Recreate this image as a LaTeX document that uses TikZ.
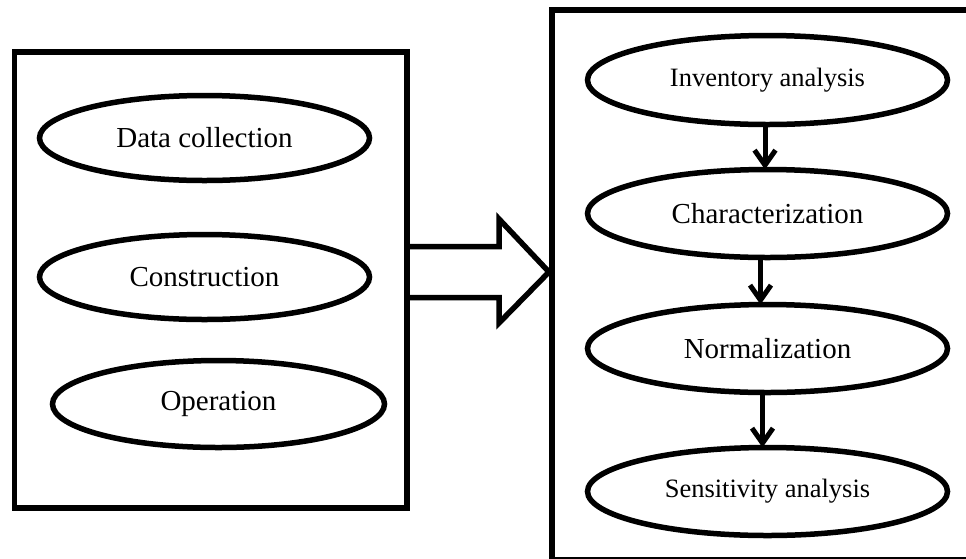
\documentclass[tikz,border=0pt]{standalone}
\usepackage{fontspec}
\setmainfont{Liberation Serif}
\usetikzlibrary{shapes.geometric,arrows.meta,calc}

\begin{document}
\begin{tikzpicture}[x=1pt,y=-1pt,
  panel/.style={draw,line width=5.5pt,inner sep=0pt,outer sep=0pt},
  stage/.style={ellipse,draw,line width=5.5pt,inner sep=0pt,outer sep=0pt,
    font=\fontsize{29}{34}\selectfont},
  smalltext/.style={font=\fontsize{26.5}{31}\selectfont},
  flow/.style={line width=5pt,-{Straight Barb[length=15pt,width=21pt]}},
  hollow/.style={draw,line width=5.5pt,line join=miter}]
\useasboundingbox (0,0) rectangle (966,558);
\clip (0,0) rectangle (966,558);

% the two frames
\node[panel,minimum width=392.5pt,minimum height=456pt] (L) at (210.75,280) {};
\node[panel,minimum width=480pt,minimum height=550pt] (R) at (792,285.2) {};

% project phases
\node[stage,minimum width=330pt,minimum height=85pt] (dc) at (204.5,138) {Data collection};
\node[stage,minimum width=330pt,minimum height=85pt] (co) at (204.5,277) {Construction};
\node[stage,minimum width=332pt,minimum height=87pt] (op) at (218.5,404) {Operation};

% assessment steps
\node[stage,smalltext,minimum width=360pt,minimum height=89pt] (ia) at (767.5,80) {Inventory analysis};
\node[stage,minimum width=360pt,minimum height=88pt] (ch) at (767.5,213.5) {Characterization};
\node[stage,minimum width=360pt,minimum height=88pt] (no) at (767.5,348.5) {Normalization};
\node[stage,smalltext,minimum width=360pt,minimum height=88pt] (sa) at (767.5,491.5) {Sensitivity analysis};

\draw[flow] ([xshift=-2.5pt]ia.south) -- ([xshift=-2.5pt]ch.north);
\draw[flow] ([xshift=-7pt]ch.south) -- ([xshift=-7pt]no.north);
\draw[flow] ([xshift=-5pt]no.south) -- ([xshift=-5pt]sa.north);

% hollow block arrow between the frames
\draw[hollow] ($(L.east)+(0,-33.3)$) -- ++(92,0) -- ++(0,-27.7)
  -- ($(R.west)+(-3,-13.2)$) -- ($(L.east)+(92,43)$) -- ++(0,-25.5) -- ++(-92,0);
\end{tikzpicture}
\end{document}
